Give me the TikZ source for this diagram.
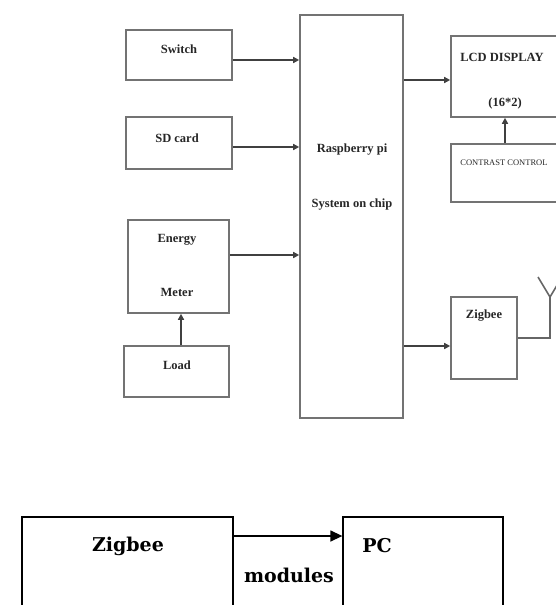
\documentclass[tikz,border=0pt]{standalone}
\usepackage{fontspec}
\setmainfont{Liberation Serif}
\newfontfamily\lowfont{DejaVu Serif}
\usepackage{tikz}
\usepackage{xcolor}
\usetikzlibrary{positioning, fit, arrows.meta}

\begin{document}
\begin{tikzpicture}[x=1pt, y=-1pt, thick,
    box/.style = {draw=black!55, line width=1.6pt, rectangle, inner sep=0pt},
    txt/.style = {inner sep=0pt, text=black!85, font=\fontsize{12.5}{14}\selectfont\bfseries},
    arr/.style = {draw=black!75, line width=1.5pt, -{Triangle[length=6pt, width=6pt]}},
    wire/.style = {draw=black!60, line width=1.6pt},
    bigbox/.style = {draw=black, line width=1.3pt, rectangle, inner sep=0pt},
    bigtxt/.style = {inner sep=0pt, font=\lowfont\fontsize{19}{22}\selectfont\bfseries},
    bigarr/.style = {draw=black, line width=1.4pt, -{Triangle[length=12pt, width=11pt]}}]
                    \useasboundingbox (0,0) rectangle (556,605);
                    \clip (0,0) rectangle (556,605);

                    % Nodes
                    \node[box, minimum width=106, minimum height=50] (switch) at (179,55) {};
                    \node[box, minimum width=106, minimum height=52] (sdcard) at (179,143) {};
                    \node[box, minimum width=101, minimum height=93] (meter) at (178.5,266.5) {};
                    \node[box, minimum width=105, minimum height=51] (load) at (176.5,371.5) {};
                    \node[box, minimum width=103, minimum height=403] (rpi) at (351.5,216.5) {};
                    \node[box, minimum width=149, minimum height=81] (lcd) at (525.5,76.5) {};
                    \node[box, minimum width=149, minimum height=58] (contrast) at (525.5,173) {};
                    \node[box, minimum width=66, minimum height=82] (zigbee) at (484,338) {};
                    \coordinate (ant) at (550,297);

                    \node[bigbox, minimum width=211, minimum height=130] (zbmod) at (127.5,582) {};
                    \node[bigbox, minimum width=160, minimum height=130] (pc) at (423,582) {};

                    % Texts
                    \node[txt] (switch-t) at (179,49) {Switch};
                    \node[txt] (sdcard-t) at (177,138) {SD card};
                    \node[txt] (meter-t1) at (177,240) {Energy};
                    \node[txt] (meter-t2) at (177,292) {Meter};
                    \node[txt] (load-t) at (177,365) {Load};
                    \node[txt] (rpi-t1) at (352,150) {Raspberry pi};
                    \node[txt] (rpi-t2) at (352,205) {System on chip};
                    \node[txt] (lcd-t1) at (502,57) {LCD DISPLAY};
                    \node[txt] (lcd-t2) at (505,103) {(16*2)};
                    \node[txt, anchor=west, font=\fontsize{8.5}{10}\selectfont] (contrast-t) at (460,163) {CONTRAST CONTROL};
                    \node[txt] (zigbee-t) at (484,316) {Zigbee};

                    \node[bigtxt] (zbmod-t) at (128,546) {Zigbee};
                    \node[bigtxt] (pc-t) at (377,546) {PC};
                    \node[bigtxt] (modules-t) at (289,575) {modules};

                    % Lines
                    \coordinate (switch-out) at ([yshift=-5pt]switch.east);
                    \coordinate (sdcard-out) at ([yshift=-4pt]sdcard.east);
                    \coordinate (meter-out) at ([yshift=11.5pt]meter.east);
                    \coordinate (load-out) at ([xshift=4.5pt]load.north);
                    \coordinate (lcd-in) at ([yshift=-3.5pt]lcd.west);
                    \coordinate (zigbee-in) at ([yshift=-8pt]zigbee.west);
                    \coordinate (contrast-out) at ([xshift=-20.5pt]contrast.north);
                    \coordinate (zbmod-out) at ([yshift=46pt]zbmod.east);

                    \draw[arr] (switch-out) -- (switch-out -| rpi.west);
                    \draw[arr] (sdcard-out) -- (sdcard-out -| rpi.west);
                    \draw[arr] (meter-out) -- (meter-out -| rpi.west);
                    \draw[arr] (load-out) -- (load-out |- meter.south);
                    \draw[arr] (rpi.east |- lcd-in) -- (lcd-in);
                    \draw[arr] (contrast-out) -- (contrast-out |- lcd.south);
                    \draw[arr] (rpi.east |- zigbee-in) -- (zigbee-in);

                    % Antenna
                    \draw[wire] (zigbee.east) -| (ant);
                    \draw[wire] (538,277) -- (ant) -- (562,277);

                    \draw[bigarr] (zbmod-out) -- (zbmod-out -| pc.west);
                \end{tikzpicture}
\end{document}
